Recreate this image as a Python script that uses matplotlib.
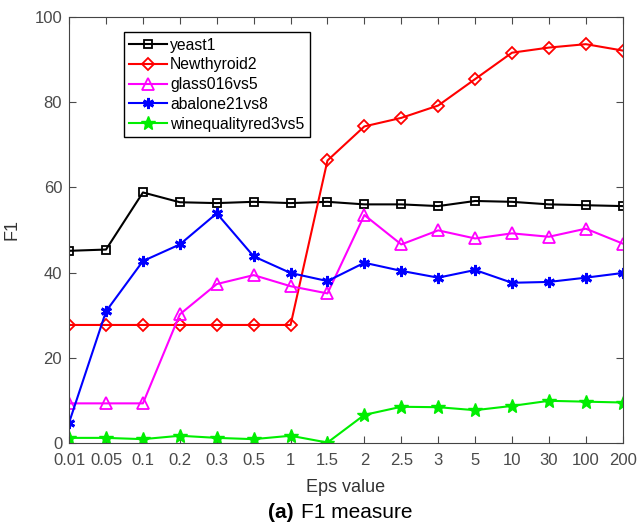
import matplotlib.pyplot as plt

plt.rcParams['font.family'] = ['Liberation Sans', 'DejaVu Sans']

eps_labels = ['0.01', '0.05', '0.1', '0.2', '0.3', '0.5', '1', '1.5',
              '2', '2.5', '3', '5', '10', '30', '100', '200']
yeast1 = [45.1, 45.4, 58.8, 56.5, 56.3, 56.6, 56.3, 56.6,
          56.0, 56.0, 55.6, 56.8, 56.6, 56.0, 55.8, 55.6]
newthyroid2 = [27.7, 27.7, 27.7, 27.7, 27.7, 27.7, 27.7, 66.3,
               74.3, 76.3, 79.2, 85.4, 91.6, 92.8, 93.6, 92.1]
glass016vs5 = [9.3, 9.3, 9.3, 30.2, 37.3, 39.4, 36.8, 35.1,
               53.5, 46.6, 49.9, 48.0, 49.2, 48.4, 50.3, 46.8]
abalone21vs8 = [4.8, 30.9, 42.7, 46.6, 53.9, 43.8, 39.9, 38.0,
                42.3, 40.4, 38.8, 40.6, 37.6, 37.8, 38.8, 39.9]
winequalityred3vs5 = [1.2, 1.2, 0.9, 1.7, 1.2, 0.9, 1.7, 0.1,
                      6.6, 8.5, 8.4, 7.7, 8.7, 9.9, 9.7, 9.5]

x = list(range(len(eps_labels)))
fig = plt.figure(figsize=(6.4, 5.28), dpi=100)
ax = fig.add_axes([0.108, 0.161, 0.865, 0.807])

ax.plot(x, yeast1, color='black', marker='s', mfc='none', ms=6, mew=1.3, lw=1.5, label='yeast1')
ax.plot(x, newthyroid2, color='red', marker='D', mfc='none', ms=6.5, mew=1.3, lw=1.5, label='Newthyroid2')
ax.plot(x, glass016vs5, color='magenta', marker='^', mfc='none', ms=8, mew=1.3, lw=1.5, label='glass016vs5')
ax.plot(x, abalone21vs8, color='blue', marker=(6, 2, 0), ms=8, mew=2, lw=1.5, label='abalone21vs8')
ax.plot(x, winequalityred3vs5, color='#00ee00', marker='*', ms=10.5, lw=1.5, label='winequalityred3vs5')

ax.set_xlim(0, len(eps_labels) - 1)
ax.set_ylim(0, 100)
ax.set_xticks(x)
ax.set_xticklabels(eps_labels)
ax.set_yticks([0, 20, 40, 60, 80, 100])
ax.tick_params(direction='in', top=True, right=True, labelsize=12, colors='#4a4a4a', length=5)
ax.tick_params(axis='x', pad=7)
ax.tick_params(axis='y', pad=5)
for sp in ax.spines.values():
    sp.set_color('#444444')
ax.set_ylabel('F1', fontsize=13, color='#333333', labelpad=10)
ax.set_xlabel('Eps value', fontsize=13, color='#333333', labelpad=8)

leg = ax.legend(loc='upper left', bbox_to_anchor=(0.099, 0.964), borderaxespad=0,
                fontsize=11.3, fancybox=False, edgecolor='black', framealpha=1,
                handlelength=2.4, handletextpad=0.2, borderpad=0.35, labelspacing=0.3)
leg.get_frame().set_linewidth(1.0)

fig.text(0.459, 0.018, '(a)', fontsize=15, fontweight='bold', ha='right', va='baseline')
fig.text(0.471, 0.018, 'F1 measure', fontsize=15, ha='left', va='baseline')

fig.savefig('out.png', dpi=100)
